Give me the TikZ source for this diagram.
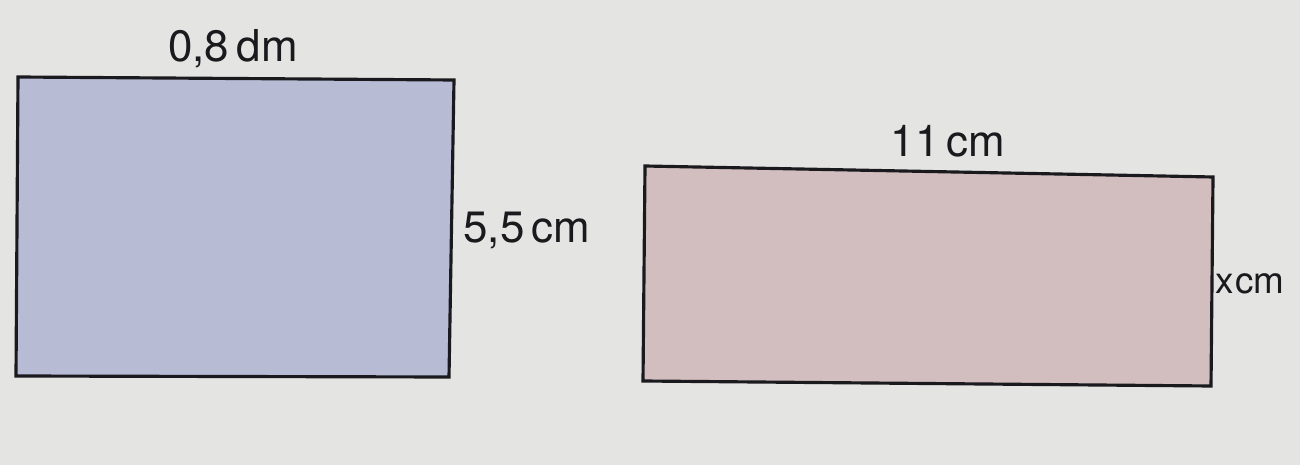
\documentclass[tikz,border=0pt]{standalone}
\usepackage{fontspec}
\setmainfont{TeX Gyre Heros}
\usepackage{xcolor}
\usepackage{tikz}
\usetikzlibrary{positioning}
\definecolor{cPaper}{HTML}{E4E5E2}
\definecolor{cBlueFill}{HTML}{B7BCD4}
\definecolor{cRoseFill}{HTML}{D3BEBF}
\definecolor{cInk}{HTML}{1A1A1E}
\tikzset{
  rect/.style={draw=cInk,fill=#1,line width=1.8pt,line join=miter},
  rect/.default=cBlueFill,
  lbl/.style={font=\fontsize{25}{28}\selectfont,text=cInk,anchor=base,inner sep=0pt},
}

\begin{document}
\begin{tikzpicture}[x=0.02cm,y=-0.02cm]
        \fill[cPaper] (0,0) rectangle (1300,465);
        \useasboundingbox (0,0) rectangle (1300,465);
        % blue rectangle
        \coordinate (b1) at (18,77);
        \coordinate (b2) at (454,80);
        \coordinate (b3) at (449,377);
        \coordinate (b4) at (16,376);
        \draw[rect=cBlueFill] (b1) -- (b2) -- (b3) -- (b4) -- cycle;
        \node[lbl] (bw) at (233,62) {0,8\,dm};
        \node[lbl] (bh) at (527,243) {5,5\,cm};
        % rose rectangle
        \coordinate (r1) at (645,166);
        \coordinate (r2) at (1213,177);
        \coordinate (r3) at (1211,386);
        \coordinate (r4) at (643,381);
        \draw[rect=cRoseFill] (r1) -- (r2) -- (r3) -- (r4) -- cycle;
        \node[lbl] (rw) at (948,157) {11\,cm};
        \node[lbl,font=\fontsize{21}{24}\selectfont] (rh) at (1250,294) {x\kern1ptcm};
      \end{tikzpicture}
\end{document}
